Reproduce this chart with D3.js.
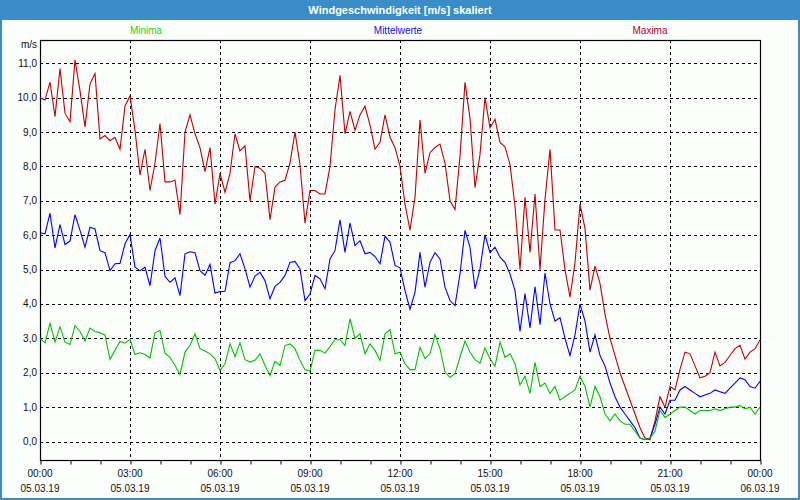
<!DOCTYPE html>
<html><head><meta charset="utf-8">
<script src="https://cdn.jsdelivr.net/npm/d3@7"></script>
<style>
html,body{margin:0;padding:0;background:#fff;}
svg{display:block;font-family:"Liberation Sans",Arial,sans-serif;}
</style></head>
<body><svg id="c" width="800" height="500"></svg>
<script>
const title = "Windgeschwindigkeit [m/s] skaliert";
const seriesNames = ["Minima", "Mittelwerte", "Maxima"];
const startTime = "2019-03-05T00:00:00";
const stepMinutes = 10;
const yTicks = [0,1,2,3,4,5,6,7,8,9,10,11];
const xTickLabels = [["00:00","05.03.19"],["03:00","05.03.19"],["06:00","05.03.19"],["09:00","05.03.19"],["12:00","05.03.19"],["15:00","05.03.19"],["18:00","05.03.19"],["21:00","05.03.19"],["00:00","06.03.19"]];

const maxima = [10.0,9.93,10.45,9.45,10.85,9.55,9.3,11.1,10.2,9.15,10.4,10.7,8.8,8.9,8.75,8.85,8.5,9.75,10.05,9.05,
7.75,8.5,7.3,8.1,9.25,7.55,7.55,7.6,6.6,9.0,9.5,8.95,8.55,7.85,8.55,6.9,7.8,7.25,7.8,8.95,
8.45,8.6,7.0,8.0,7.95,7.8,6.45,7.4,7.55,7.6,8.1,9.0,8.05,6.35,7.3,7.3,7.2,7.2,8.0,9.65,
10.65,8.95,9.6,9.05,9.5,9.75,9.2,8.5,8.7,9.5,8.85,8.55,8.0,6.9,6.15,7.1,9.35,7.8,8.4,8.55,
8.65,8.1,7.0,6.75,8.3,10.45,9.4,7.38,8.35,10.0,9.12,9.37,8.7,8.57,8.05,6.85,5.0,7.1,5.5,7.2,
5.0,7.05,8.5,6.15,6.15,5.0,4.2,5.2,6.9,6.2,4.4,5.1,4.6,3.7,3.0,2.5,2.0,1.6,1.2,0.8,
0.4,0.1,0.05,0.6,1.3,1.0,1.6,1.5,2.1,2.6,2.55,2.2,1.85,1.9,2.0,2.6,2.2,2.3,2.5,2.7,
2.8,2.4,2.6,2.7,2.95];

const mittel = [6.07,6.04,6.64,5.63,6.31,5.73,5.83,6.6,6.14,5.65,6.23,6.18,5.55,5.49,4.97,5.17,5.18,5.75,6.02,5.07,
4.97,5.07,4.53,5.55,5.92,4.8,4.63,4.76,4.24,5.46,5.52,5.49,4.97,4.83,5.15,4.32,4.36,4.37,5.2,5.26,
5.46,5.02,4.49,4.81,4.92,4.68,4.15,4.51,4.63,4.83,5.21,5.24,5.02,4.1,4.29,4.83,4.73,4.44,5.31,5.55,
6.45,5.5,6.35,5.7,5.84,5.46,5.5,5.38,5.17,5.97,5.8,5.12,5.05,4.39,3.85,4.34,5.5,4.49,5.21,5.49,
5.31,4.49,4.1,3.95,4.88,6.14,5.65,4.44,5.02,6.01,5.49,5.65,5.36,5.21,4.87,4.39,3.2,4.3,3.3,4.5,
3.4,4.9,4.0,3.5,3.6,3.0,2.5,3.1,4.0,3.5,2.6,3.1,2.5,2.2,1.7,1.3,1.0,0.8,0.6,0.4,
0.1,0.05,0.1,0.5,1.0,0.8,1.2,1.2,1.5,1.6,1.5,1.4,1.3,1.35,1.4,1.5,1.45,1.4,1.55,1.7,
1.85,1.8,1.6,1.55,1.75];

const minima = [3.0,2.87,3.44,2.89,3.34,2.89,2.82,3.37,3.2,2.92,3.3,3.2,3.16,3.1,2.39,2.65,2.91,2.86,2.97,2.53,
2.58,2.53,2.43,3.16,3.23,2.57,2.45,2.21,1.95,2.6,2.79,3.13,2.7,2.63,2.55,2.41,2.07,2.26,2.84,2.47,
2.87,2.38,2.31,2.36,2.55,2.21,1.92,2.33,2.21,2.79,2.84,2.7,2.36,2.09,2.04,2.65,2.65,2.57,2.76,2.96,
2.96,2.79,3.57,3.0,3.13,2.55,2.84,2.65,2.36,3.13,3.25,2.55,2.6,2.26,2.09,2.09,2.74,2.41,2.55,3.11,
2.7,2.02,1.86,1.97,2.45,2.92,2.6,2.38,2.28,2.72,2.41,2.19,2.89,2.45,2.55,2.26,1.64,1.9,1.4,2.3,
1.6,1.7,1.4,1.6,1.2,1.3,1.4,1.5,1.9,1.6,1.0,1.6,1.3,0.8,0.6,0.8,0.6,0.5,0.5,0.3,
0.1,0.05,0.1,0.3,0.9,0.7,0.8,0.9,1.0,1.0,0.9,0.8,0.9,0.9,0.9,0.95,0.9,0.95,1.0,1.0,
1.05,0.95,1.0,0.8,1.0];

(function(){
const colors = {Minima:"#00c000", Mittelwerte:"#0000ff", Maxima:"#c00000"};
const legendColors = {Minima:"#22d022", Mittelwerte:"#1010e0", Maxima:"#b8002a"};

const svg = d3.select("#c");
const W = 800, H = 500;
const pL = 40, pR = 760, pT = 40, pB = 460;

svg.append("rect").attr("x",0).attr("y",0).attr("width",W).attr("height",H).attr("fill","#3a8dc6");
svg.append("rect").attr("x",2).attr("y",20).attr("width",W-4).attr("height",H-22).attr("fill","#fcfefc");
svg.append("text").attr("x",400).attr("y",14).attr("text-anchor","middle")
  .attr("fill","#ffffff").attr("font-weight","bold").attr("font-size","11px").text(title);

const t0 = new Date(startTime);
const timeAt = i => new Date(t0.getTime() + i*stepMinutes*60000);
const x = d3.scaleTime().domain([t0, new Date(t0.getTime()+24*3600000)]).range([pL, pR]);
const y = d3.scaleLinear().domain([0, 11]).range([441.5, 63.3]);

const legendX = [146, 398, 650];
seriesNames.forEach((n,k)=>{
  svg.append("text").attr("x",legendX[k]).attr("y",34).attr("text-anchor","middle")
    .attr("font-size","10px").attr("fill",legendColors[n]).text(n);
});

const g = svg.append("g");
yTicks.forEach(v=>{
  g.append("line").attr("x1",pL).attr("x2",pR).attr("y1",Math.round(y(v))+0.5).attr("y2",Math.round(y(v))+0.5)
    .attr("stroke","#000").attr("stroke-dasharray","3,3").attr("stroke-width",1);
});
const majorTicks = d3.range(0, 9).map(k=>new Date(t0.getTime()+k*3*3600000));
majorTicks.slice(1,-1).forEach(d=>{
  g.append("line").attr("x1",Math.round(x(d))+0.5).attr("x2",Math.round(x(d))+0.5).attr("y1",pT).attr("y2",pB)
    .attr("stroke","#000").attr("stroke-dasharray","3,3").attr("stroke-width",1);
});

svg.append("rect").attr("x",pL+0.5).attr("y",pT+0.5).attr("width",pR-pL).attr("height",pB-pT)
  .attr("fill","none").attr("stroke","#000").attr("stroke-width",1.2);

const xAxis = d3.axisBottom(x).ticks(d3.timeHour.every(1)).tickSize(4).tickFormat("");
const ax = svg.append("g").attr("transform",`translate(0.5,${pB+0.5})`).call(xAxis);
ax.select(".domain").remove();
ax.selectAll("line").attr("stroke","#000");

majorTicks.forEach((d,k)=>{
  svg.append("text").attr("x",x(d)).attr("y",477).attr("text-anchor","middle").attr("font-size","10px").attr("fill","#111").text(xTickLabels[k][0]);
  svg.append("text").attr("x",x(d)).attr("y",492).attr("text-anchor","middle").attr("font-size","10px").attr("fill","#111").text(xTickLabels[k][1]);
});

yTicks.forEach(v=>{
  svg.append("text").attr("x",37).attr("y",y(v)+3.5).attr("text-anchor","end").attr("font-size","10px").attr("fill","#111")
    .text(v.toFixed(1).replace(".",","));
});
svg.append("text").attr("x",37).attr("y",48).attr("text-anchor","end").attr("font-size","10px").attr("fill","#111").text("m/s");

const line = d3.line().x((d,i)=>x(timeAt(i))).y(d=>y(d));
[["Maxima",maxima],["Mittelwerte",mittel],["Minima",minima]].forEach(([n,data])=>{
  svg.append("path").datum(data).attr("d",line).attr("fill","none").attr("stroke",colors[n]).attr("stroke-width",1.1);
});
})();
</script></body></html>
